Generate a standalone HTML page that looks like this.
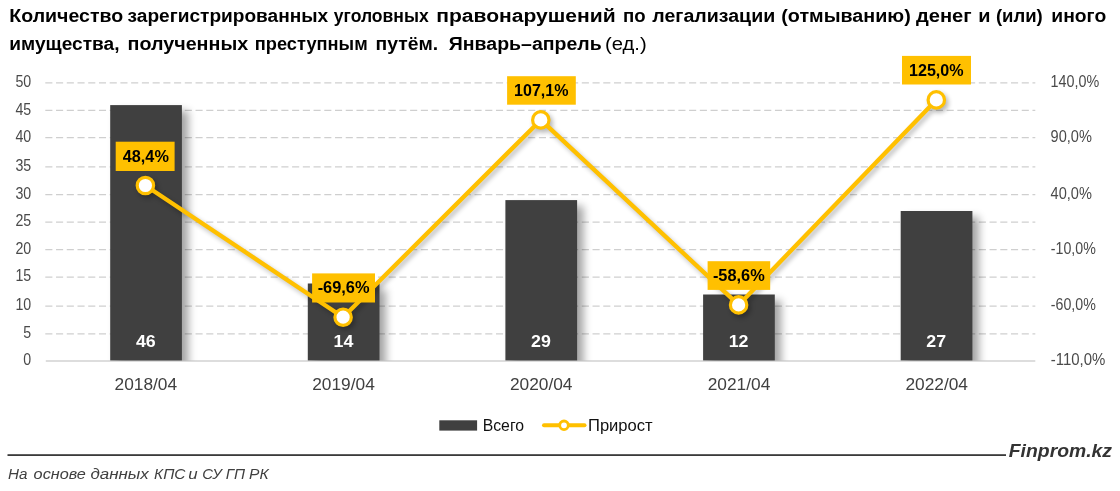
<!DOCTYPE html>
<html lang="ru">
<head>
<meta charset="utf-8">
<title>Finprom.kz</title>
<style>
html,body{margin:0;padding:0;background:#fff;}
body{width:1120px;height:491px;overflow:hidden;}
svg{display:block;font-family:"Liberation Sans", "DejaVu Sans", sans-serif;}
.ttl{font-weight:700;fill:#000;font-size:19.2px;}
.ttlr{font-weight:400;fill:#000;font-size:19.2px;}
.ax{fill:#4a4a4a;font-size:15.6px;}
.cat{fill:#404040;font-size:16px;}
.bl{fill:#fff;font-weight:700;font-size:17.2px;}
.dl{fill:#000;font-weight:700;font-size:16.9px;}
.lg{fill:#111;font-size:16.2px;}
.src{fill:#404040;font-style:italic;font-size:15.2px;}
.brand{fill:#333;font-style:italic;font-weight:700;font-size:19.2px;}
</style>
</head>
<body>
<svg width="1120" height="491" viewBox="0 0 1120 491">
<defs>
<filter id="bsh" x="-30%" y="-10%" width="160%" height="120%"><feGaussianBlur stdDeviation="4.0"/></filter>
<filter id="lsh" x="-5%" y="-10%" width="110%" height="120%"><feGaussianBlur stdDeviation="2.6"/></filter>
<clipPath id="plot"><rect x="0" y="60" width="1120" height="300.5"/></clipPath>
</defs>
<rect x="0" y="0" width="1120" height="491" fill="#ffffff"/>
<text class="ttl" y="22.3"><tspan x="9.3" textLength="113.9" lengthAdjust="spacingAndGlyphs">Количество</tspan> <tspan x="127.6" textLength="200.6" lengthAdjust="spacingAndGlyphs">зарегистрированных</tspan> <tspan x="333.8" textLength="94.9" lengthAdjust="spacingAndGlyphs">уголовных</tspan> <tspan x="436.3" textLength="179.4" lengthAdjust="spacingAndGlyphs">правонарушений</tspan> <tspan x="623.1" textLength="22.6" lengthAdjust="spacingAndGlyphs">по</tspan> <tspan x="652.3" textLength="122.9" lengthAdjust="spacingAndGlyphs">легализации</tspan> <tspan x="781.3" textLength="129.4" lengthAdjust="spacingAndGlyphs">(отмыванию)</tspan> <tspan x="915.9" textLength="55.8" lengthAdjust="spacingAndGlyphs">денег</tspan> <tspan x="978.3" textLength="12.2" lengthAdjust="spacingAndGlyphs">и</tspan> <tspan x="995.9" textLength="46.8" lengthAdjust="spacingAndGlyphs">(или)</tspan> <tspan x="1051.3" textLength="54.9" lengthAdjust="spacingAndGlyphs">иного</tspan></text>
<text class="ttl" y="49.7"><tspan x="9.3" textLength="110.2" lengthAdjust="spacingAndGlyphs">имущества,</tspan> <tspan x="127.6" textLength="120.6" lengthAdjust="spacingAndGlyphs">полученных</tspan> <tspan x="254.8" textLength="112.9" lengthAdjust="spacingAndGlyphs">преступным</tspan> <tspan x="375.6" textLength="62.6" lengthAdjust="spacingAndGlyphs">путём.</tspan> <tspan x="448.8" textLength="152.9" lengthAdjust="spacingAndGlyphs">Январь–апрель</tspan></text>
<text class="ttlr" y="49.7"><tspan x="604.9" textLength="41.8" lengthAdjust="spacingAndGlyphs">(ед.)</tspan></text>
<g stroke="#cfcfcf" stroke-width="1.25" fill="none">
<line x1="45.3" y1="333.80" x2="1035.3" y2="333.80" stroke-dasharray="7.1 3.63"/>
<line x1="45.3" y1="306.10" x2="1035.3" y2="306.10" stroke-dasharray="7.1 3.63"/>
<line x1="45.3" y1="277.00" x2="1035.3" y2="277.00" stroke-dasharray="7.1 3.63"/>
<line x1="45.3" y1="249.70" x2="1035.3" y2="249.70" stroke-dasharray="7.1 3.63"/>
<line x1="45.3" y1="222.00" x2="1035.3" y2="222.00" stroke-dasharray="7.1 3.63"/>
<line x1="45.3" y1="194.50" x2="1035.3" y2="194.50" stroke-dasharray="7.1 3.63"/>
<line x1="45.3" y1="166.80" x2="1035.3" y2="166.80" stroke-dasharray="7.1 3.63"/>
<line x1="45.3" y1="137.70" x2="1035.3" y2="137.70" stroke-dasharray="7.1 3.63"/>
<line x1="45.3" y1="110.40" x2="1035.3" y2="110.40" stroke-dasharray="7.1 3.63"/>
<line x1="45.3" y1="82.80" x2="1035.3" y2="82.80" stroke-dasharray="7.1 3.63"/>
<line x1="45.8" y1="361.10" x2="1035.3" y2="361.10" stroke="#d2d2d2" stroke-width="1.5"/>
</g>
<g class="ax" text-anchor="end">
<text x="31.2" y="365.2" textLength="7.9" lengthAdjust="spacingAndGlyphs">0</text>
<text x="31.2" y="337.9" textLength="7.9" lengthAdjust="spacingAndGlyphs">5</text>
<text x="31.2" y="310.2" textLength="15.8" lengthAdjust="spacingAndGlyphs">10</text>
<text x="31.2" y="281.1" textLength="15.8" lengthAdjust="spacingAndGlyphs">15</text>
<text x="31.2" y="253.8" textLength="15.8" lengthAdjust="spacingAndGlyphs">20</text>
<text x="31.2" y="226.1" textLength="15.8" lengthAdjust="spacingAndGlyphs">25</text>
<text x="31.2" y="198.6" textLength="15.8" lengthAdjust="spacingAndGlyphs">30</text>
<text x="31.2" y="170.9" textLength="15.8" lengthAdjust="spacingAndGlyphs">35</text>
<text x="31.2" y="141.8" textLength="15.8" lengthAdjust="spacingAndGlyphs">40</text>
<text x="31.2" y="114.5" textLength="15.8" lengthAdjust="spacingAndGlyphs">45</text>
<text x="31.2" y="86.9" textLength="15.8" lengthAdjust="spacingAndGlyphs">50</text>
</g>
<g class="ax">
<text x="1050.8" y="365.4" textLength="54.6" lengthAdjust="spacingAndGlyphs">-110,0%</text>
<text x="1050.8" y="310.4" textLength="45.0" lengthAdjust="spacingAndGlyphs">-60,0%</text>
<text x="1050.8" y="254.0" textLength="45.0" lengthAdjust="spacingAndGlyphs">-10,0%</text>
<text x="1050.6" y="198.8" textLength="41.3" lengthAdjust="spacingAndGlyphs">40,0%</text>
<text x="1050.6" y="142.0" textLength="41.3" lengthAdjust="spacingAndGlyphs">90,0%</text>
<text x="1050.6" y="87.1" textLength="48.6" lengthAdjust="spacingAndGlyphs">140,0%</text>
</g>
<g clip-path="url(#plot)">
<rect x="116.6" y="110.9" width="71.7" height="275.9" fill="#000" opacity="0.36" filter="url(#bsh)"/>
<rect x="314.2" y="289.3" width="71.7" height="97.5" fill="#000" opacity="0.36" filter="url(#bsh)"/>
<rect x="511.8" y="205.9" width="71.7" height="180.9" fill="#000" opacity="0.36" filter="url(#bsh)"/>
<rect x="709.5" y="300.3" width="71.7" height="86.5" fill="#000" opacity="0.36" filter="url(#bsh)"/>
<rect x="907.1" y="216.8" width="71.7" height="170.0" fill="#000" opacity="0.36" filter="url(#bsh)"/>
</g>
<rect x="110.2" y="105.1" width="71.7" height="255.3" fill="#404040"/>
<rect x="307.8" y="283.5" width="71.7" height="76.9" fill="#404040"/>
<rect x="505.4" y="200.1" width="71.7" height="160.3" fill="#404040"/>
<rect x="703.1" y="294.5" width="71.7" height="65.9" fill="#404040"/>
<rect x="900.7" y="211.0" width="71.7" height="149.4" fill="#404040"/>
<g class="bl" text-anchor="middle">
<text x="145.8" y="346.8" textLength="19.8" lengthAdjust="spacingAndGlyphs">46</text>
<text x="343.4" y="346.8" textLength="19.8" lengthAdjust="spacingAndGlyphs">14</text>
<text x="541.0" y="346.8" textLength="19.8" lengthAdjust="spacingAndGlyphs">29</text>
<text x="738.6" y="346.8" textLength="19.8" lengthAdjust="spacingAndGlyphs">12</text>
<text x="936.2" y="346.8" textLength="19.8" lengthAdjust="spacingAndGlyphs">27</text>
</g>
<g class="cat" text-anchor="middle">
<text x="145.8" y="389.5" textLength="62.6" lengthAdjust="spacingAndGlyphs">2018/04</text>
<text x="343.5" y="389.5" textLength="62.6" lengthAdjust="spacingAndGlyphs">2019/04</text>
<text x="541.2" y="389.5" textLength="62.6" lengthAdjust="spacingAndGlyphs">2020/04</text>
<text x="739.0" y="389.5" textLength="62.6" lengthAdjust="spacingAndGlyphs">2021/04</text>
<text x="936.7" y="389.5" textLength="62.6" lengthAdjust="spacingAndGlyphs">2022/04</text>
</g>
<g filter="url(#lsh)" opacity="0.29" transform="translate(2.4,3.0)">
<polyline points="145.4,185.5 343.1,317.2 540.8,119.9 738.6,304.9 936.3,99.9" fill="none" stroke="#000" stroke-width="4" stroke-linejoin="round" stroke-linecap="round"/>
<circle cx="145.4" cy="185.5" r="9.8" fill="#000"/>
<circle cx="343.1" cy="317.2" r="9.8" fill="#000"/>
<circle cx="540.8" cy="119.9" r="9.8" fill="#000"/>
<circle cx="738.6" cy="304.9" r="9.8" fill="#000"/>
<circle cx="936.3" cy="99.9" r="9.8" fill="#000"/>
</g>
<polyline points="145.4,185.5 343.1,317.2 540.8,119.9 738.6,304.9 936.3,99.9" fill="none" stroke="#FFC000" stroke-width="4.3" stroke-linejoin="round" stroke-linecap="round"/>
<rect x="115.7" y="141.7" width="58.9" height="29.3" fill="#FFC000"/>
<rect x="312.1" y="273.4" width="62.9" height="29.1" fill="#FFC000"/>
<rect x="507.1" y="76.2" width="68.7" height="28.5" fill="#FFC000"/>
<rect x="707.6" y="261.2" width="62.6" height="28.7" fill="#FFC000"/>
<rect x="902.0" y="55.9" width="69.0" height="28.6" fill="#FFC000"/>
<circle cx="145.4" cy="185.5" r="8.2" fill="#fff" stroke="#FFC000" stroke-width="3.2"/>
<circle cx="343.1" cy="317.2" r="8.2" fill="#fff" stroke="#FFC000" stroke-width="3.2"/>
<circle cx="540.8" cy="119.9" r="8.2" fill="#fff" stroke="#FFC000" stroke-width="3.2"/>
<circle cx="738.6" cy="304.9" r="8.2" fill="#fff" stroke="#FFC000" stroke-width="3.2"/>
<circle cx="936.3" cy="99.9" r="8.2" fill="#fff" stroke="#FFC000" stroke-width="3.2"/>
<g class="dl" text-anchor="middle">
<text x="145.8" y="161.7" textLength="46.1" lengthAdjust="spacingAndGlyphs">48,4%</text>
<text x="343.6" y="293.2" textLength="51.9" lengthAdjust="spacingAndGlyphs">-69,6%</text>
<text x="541.3" y="95.8" textLength="54.4" lengthAdjust="spacingAndGlyphs">107,1%</text>
<text x="738.8" y="280.8" textLength="51.8" lengthAdjust="spacingAndGlyphs">-58,6%</text>
<text x="936.3" y="75.5" textLength="54.6" lengthAdjust="spacingAndGlyphs">125,0%</text>
</g>
<rect x="439.3" y="420.3" width="37.8" height="10.3" fill="#404040"/>
<text class="lg" x="482.7" y="430.6" textLength="41.4" lengthAdjust="spacingAndGlyphs">Всего</text>
<line x1="544.0" y1="425.3" x2="584.5" y2="425.3" stroke="#FFC000" stroke-width="4" stroke-linecap="round"/>
<circle cx="564.0" cy="425.3" r="4.3" fill="#fff" stroke="#FFC000" stroke-width="2.8"/>
<text class="lg" x="588.0" y="430.5" textLength="64.6" lengthAdjust="spacingAndGlyphs">Прирост</text>
<rect x="7.5" y="454.2" width="998.5" height="1.8" fill="#3a3a3a"/>
<text class="brand" x="1008.8" y="456.6" textLength="103.2" lengthAdjust="spacingAndGlyphs">Finprom.kz</text>
<text class="src" y="479.2"><tspan x="8.1" textLength="19.4" lengthAdjust="spacingAndGlyphs">На</tspan> <tspan x="33.6" textLength="52.3" lengthAdjust="spacingAndGlyphs">основе</tspan> <tspan x="90.4" textLength="58.4" lengthAdjust="spacingAndGlyphs">данных</tspan> <tspan x="154.1" textLength="31.4" lengthAdjust="spacingAndGlyphs">КПС</tspan> <tspan x="188.2" textLength="9.4" lengthAdjust="spacingAndGlyphs">и</tspan> <tspan x="202.3" textLength="19.4" lengthAdjust="spacingAndGlyphs">СУ</tspan> <tspan x="225.7" textLength="19.3" lengthAdjust="spacingAndGlyphs">ГП</tspan> <tspan x="249.0" textLength="19.6" lengthAdjust="spacingAndGlyphs">РК</tspan></text>
</svg>
</body>
</html>
